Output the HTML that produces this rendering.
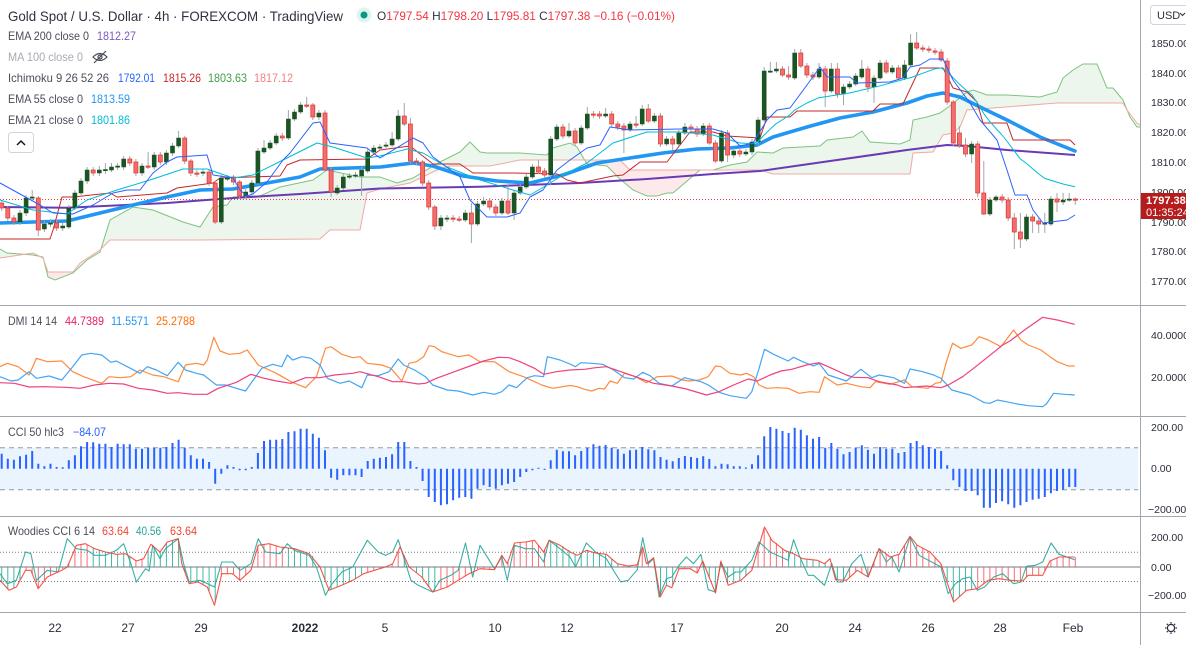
<!DOCTYPE html>
<html><head><meta charset="utf-8">
<style>
html,body{margin:0;padding:0;background:#fff;width:1186px;height:645px;overflow:hidden;}
svg{position:absolute;left:0;top:0;font-family:"Liberation Sans",Arial,sans-serif;}
</style></head><body>
<svg width="1186" height="645" xmlns="http://www.w3.org/2000/svg">
<defs><clipPath id="cm"><rect x="0" y="0" width="1140" height="305"/></clipPath></defs>
<rect x="0" y="0" width="1186" height="645" fill="#fff"/>

<g clip-path="url(#cm)">
<!-- cloud -->
<polygon fill="#ecf6ec" points="0,249 7,253 33,255 43,257 48,277 55,280 73,273 87,260 100,252 110,220 133,207 153,210 183,222 200,227 213,207 227,205 233,197 260,196 280,187 313,180 327,170 360,177 380,177 397,183 413,178 440,162 460,152 470,142 480,152 487,153 520,153 547,155 553,148 570,143 577,147 587,164 607,166 620,179 633,190 647,196 657,196 667,193 673,193 700,170 713,170 730,165 747,162 757,152 773,153 783,148 820,146 827,140 853,137 862,131 870,142 900,144 910,140 913,120 927,117 940,113 947,108 967,92 973,90 987,95 1007,95 1040,97 1057,92 1063,78 1073,70 1083,64 1097,64 1107,88 1113,88 1123,100 1130,117 1137,127 1140,127 1140,125 1137,123 1127,110 1123,103 1057,103 967,110 960,127 953,133 943,135 933,152 913,153 910,174 773,174 760,170 630,170 620,160 520,160 490,166 450,166 437,170 410,183 380,189 367,193 360,230 330,230 320,239 200,240 110,240 100,250 80,263 73,272 48,272 43,258 33,253 0,258"/>
<polygon fill="#fde9ea" points="43.8,260.3 48,277 55,280 73,273 87,260 100,252 100.9,249 100,250 80,263 73,272 48,272"/>
<polygon fill="#fde9ea" points="584.6,160 587,164 607,166 620,179 633,190 647,196 657,196 667,193 673,193 700,170 630,170 620,160"/>
<polyline fill="none" stroke="#7cc47f" stroke-width="1" points="0,249 7,253 33,255 43,257 48,277 55,280 73,273 87,260 100,252 110,220 133,207 153,210 183,222 200,227 213,207 227,205 233,197 260,196 280,187 313,180 327,170 360,177 380,177 397,183 413,178 440,162 460,152 470,142 480,152 487,153 520,153 547,155 553,148 570,143 577,147 587,164 607,166 620,179 633,190 647,196 657,196 667,193 673,193 700,170 713,170 730,165 747,162 757,152 773,153 783,148 820,146 827,140 853,137 862,131 870,142 900,144 910,140 913,120 927,117 940,113 947,108 967,92 973,90 987,95 1007,95 1040,97 1057,92 1063,78 1073,70 1083,64 1097,64 1107,88 1113,88 1123,100 1130,117 1137,127 1140,127"/>
<polyline fill="none" stroke="#f1a9a6" stroke-width="1" points="0,258 33,253 43,258 48,272 73,272 80,263 100,250 110,240 200,240 320,239 330,230 360,230 367,193 380,189 410,183 437,170 450,166 490,166 520,160 620,160 630,170 760,170 773,174 910,174 913,153 933,152 943,135 953,133 960,127 967,110 1057,103 1123,103 1127,110 1137,123 1140,125"/>

<!-- current price line -->
<line x1="0" y1="199.5" x2="1140" y2="199.5" stroke="#f23645" stroke-width="1" stroke-dasharray="1,2"/>

<!-- EMA200 -->
<polyline fill="none" stroke="#6a3ab5" stroke-width="2" stroke-linejoin="round" points="0,207 67,207.7 167,203 233,198 300,194 380,188.5 480,186.7 580,183 647,179 713,174 760,171 907,150 947,145 967,146 1007,150 1075,155"/>
<!-- EMA55 -->
<polyline fill="none" stroke="#2196f3" stroke-width="3.6" stroke-linejoin="round" stroke-linecap="round" points="0,223 67,221 100,213 133,205 167,197 200,190 233,189 267,183 300,177 320,169 380,167 413,163 433,166 463,176 497,181 530,183 563,175 597,163 630,158 663,153 697,149 730,148 757,145 773,137 807,127 840,118 873,112 907,103 927,96 943,93 960,97 980,107 1007,120 1040,137 1075,151"/>
<!-- Kijun -->
<polyline fill="none" stroke="#c62828" stroke-width="1" stroke-linejoin="round" points="0,239 50,239 53,230 62,197 73,197 110,193 117,197 167,193 177,188 213,183 220,178 250,177 280,176 287,165 300,160 367,159 380,150 410,146 433,164 460,164 473,173 513,173 557,174 567,180 580,183 613,176 623,175 640,162 667,162 690,132 713,132 727,136 760,138 767,117 790,117 797,111 873,111 880,104 903,104 920,68 943,68 953,88 967,92 977,102 983,123 1007,123 1013,140 1070,140 1075,145"/>

<!-- wicks -->
<path fill="none" stroke="#a2a5ab" stroke-width="1" d="M1.7 200V211M7.8 206V221M13.9 215V225M20 210V225M26.1 195V216M32.2 190V201M38.3 196V236M44.4 221V232M50.5 219V227M56.6 220V231M62.7 223V231M68.8 205V229M74.9 190V210M81 178V195M87.1 167V184M93.2 167V176M99.3 166V176M105.4 163V174M111.5 163V172M117.6 163V170M123.7 156V170M129.8 156V166M135.9 159V176M142 163V176M148.1 152V169M154.2 152V170M160.3 152V165M166.4 150V165M172.5 143V156M178.6 131V148M184.7 136V164M190.8 159V176M196.9 170V177M203 169V176M209.1 169V186M215.2 181V224M221.3 175V224M227.4 175V181M233.5 175V185M239.6 180V199M245.7 189V199M251.8 180V195M257.9 148V185M264 140V154M270.1 140V150M276.2 133V145M282.3 133V141M288.4 110V140M294.5 109V121M300.6 102V114M306.7 97V108M312.8 103V120M318.9 110V120M325 110V172M331.1 167V197M337.2 185V195M343.3 174V190M349.4 173V179M355.5 172V178M361.6 167V196M367.7 149V173M373.8 145V151M379.9 144V150M386 142V148M392.1 132V147M398.2 110V141M404.3 103V126M410.4 118V164M416.5 158V165M422.6 160V186M428.7 180V210M434.8 205V230M440.9 215V230M447 215V222M453.1 215V222M459.2 216V222M465.3 210V222M471.4 203V243M477.5 201V226M483.6 197V206M489.7 198V210M495.8 204V216M501.9 198V215M508 183V215M514.1 190V220M520.2 184V195M526.3 174V189M532.4 164V179M538.5 160V174M544.6 168V178M550.7 136V185M556.8 124V141M562.9 124V139M569 123V138M575.1 128V146M581.2 125V145M587.3 107V130M593.4 111V118M599.5 111V119M605.6 108V118M611.7 111V127M617.8 121V130M623.9 123V153M630 121V132M636.1 116V128M642.2 105V126M648.3 104V123M654.4 113V123M660.5 113V147M666.6 136V146M672.7 136V150M678.8 130V146M684.9 123V135M691 124V132M697.1 126V137M703.2 123V136M709.3 123V145M715.4 140V163M721.5 130V163M727.6 130V162M733.7 148V158M739.8 148V157M745.9 149V156M752 139V155M758.1 117V145M764.2 67V122M770.3 62V73M776.4 62V73M782.5 66V77M788.6 66V80M794.7 49V80M800.8 49V68M806.9 63V78M813 72V80M819.1 63V79M825.2 66V107M831.3 63V93M837.4 63V98M843.5 84V105M849.6 81V89M855.7 73V86M861.8 60V79M867.9 66V92M874 75V103M880.1 60V80M886.2 60V74M892.3 65V74M898.4 65V80M904.5 60V80M910.6 34V67M916.7 32V50M922.8 45V52M928.9 46V53M935 48V55M941.1 49V62M947.2 58V105M953.3 100V146M959.4 126V148M965.5 138V157M971.6 141V163M977.7 141V197M983.8 161V215M989.9 197V216M996 195V202M1002.1 194V203M1008.2 197V221M1014.3 213V249M1020.4 213V248M1026.5 214V241M1032.6 214V233M1038.7 218V233M1044.8 213V233M1050.9 196V226M1057 193V212M1063.1 193V205M1069.2 193V202M1075.3 197.6V204.7"/>

<!-- green bodies -->
<path fill="#1b5424" stroke="#1b5424" stroke-width="0.6" d="M18 213h4v9h-4zM24.1 198h4v15h-4zM30.2 197h4v1.2h-4zM42.4 224h4v5h-4zM48.5 223h4v1.2h-4zM60.7 226h4v2h-4zM66.8 208h4v19h-4zM72.9 193h4v15h-4zM79 181h4v12h-4zM85.1 170h4v11h-4zM97.3 170h4v3h-4zM103.4 169.5h4v1.2h-4zM109.5 167h4v3h-4zM115.6 166h4v1.2h-4zM121.7 159h4v8h-4zM140 166h4v7h-4zM152.2 155h4v12h-4zM164.4 153h4v9h-4zM170.5 146h4v7h-4zM176.6 138h4v8h-4zM201 172h4v1.2h-4zM219.3 178h4v44h-4zM225.4 178h4v1.2h-4zM243.7 192h4v4h-4zM249.8 183h4v9h-4zM255.9 151h4v32h-4zM262 148h4v4h-4zM268.1 143h4v5h-4zM274.2 136h4v7h-4zM286.4 119h4v19h-4zM292.5 112h4v7h-4zM298.6 105h4v7h-4zM316.9 113h4v4h-4zM335.2 188h4v5h-4zM341.3 177h4v11h-4zM347.4 176h4v1.2h-4zM353.5 175h4v1.2h-4zM359.6 170h4v6h-4zM365.7 152h4v19h-4zM371.8 148h4v4h-4zM377.9 147h4v1.2h-4zM384 145h4v1.2h-4zM390.1 139h4v6h-4zM396.2 116h4v23h-4zM438.9 218h4v8h-4zM445 218h4v1.2h-4zM463.3 213h4v7h-4zM475.5 204h4v20h-4zM481.6 201h4v3h-4zM499.9 201h4v12h-4zM512.1 193h4v20h-4zM518.2 187h4v6h-4zM524.3 177h4v10h-4zM530.4 167h4v10h-4zM548.7 139h4v36h-4zM554.8 127h4v12h-4zM567 131h4v5h-4zM579.2 128h4v15h-4zM585.3 114h4v14h-4zM603.6 114h4v2h-4zM628 124h4v6h-4zM640.2 109h4v15h-4zM652.4 116h4v5h-4zM664.6 139h4v5h-4zM676.8 133h4v11h-4zM682.9 127h4v6h-4zM701.2 126h4v8h-4zM719.5 133h4v28h-4zM731.7 151h4v4h-4zM743.9 152h4v2h-4zM750 142h4v10h-4zM756.1 120h4v22h-4zM762.2 71h4v49h-4zM768.3 71h4v1.2h-4zM774.4 69h4v2h-4zM792.7 53h4v25h-4zM817.1 69h4v8h-4zM829.3 69h4v22h-4zM841.5 87h4v7h-4zM847.6 84h4v3h-4zM853.7 76h4v8h-4zM859.8 69h4v8h-4zM872 78h4v9h-4zM878.1 63h4v15h-4zM890.3 68h4v4h-4zM902.5 65h4v13h-4zM908.6 43h4v22h-4zM969.6 144h4v10h-4zM987.9 200h4v14h-4zM994 197h4v3h-4zM1024.5 217h4v22h-4zM1042.8 223h4v1.2h-4zM1048.9 199h4v25h-4zM1061.1 200h4v2h-4zM1067.2 199h4v1.2h-4z"/>
<!-- red bodies -->
<path fill="#f07070" stroke="#e53935" stroke-width="0.8" d="M-0.3 203h4v5h-4zM5.8 208h4v10h-4zM11.9 218h4v4h-4zM36.3 198h4v32h-4zM54.6 223h4v5h-4zM91.2 170h4v3h-4zM127.8 159h4v4h-4zM133.9 162h4v11h-4zM146.1 166h4v1.2h-4zM158.3 155h4v7h-4zM182.7 138h4v23h-4zM188.8 161h4v12h-4zM194.9 173h4v1.2h-4zM207.1 172h4v11h-4zM213.2 183h4v39h-4zM231.5 177h4v5h-4zM237.6 182h4v14h-4zM280.3 136h4v2h-4zM304.7 105h4v1.2h-4zM310.8 105h4v12h-4zM323 113h4v57h-4zM329.1 170h4v22h-4zM402.3 116h4v8h-4zM408.4 124h4v37h-4zM414.5 161h4v1.2h-4zM420.6 162h4v21h-4zM426.7 183h4v24h-4zM432.8 207h4v19h-4zM451.1 218h4v1.2h-4zM457.2 219h4v1.2h-4zM469.4 213h4v11h-4zM487.7 201h4v6h-4zM493.8 207h4v6h-4zM506 201h4v12h-4zM536.5 167h4v5h-4zM542.6 171h4v4h-4zM560.9 127h4v9h-4zM573.1 131h4v12h-4zM591.4 114h4v1.2h-4zM597.5 114h4v2h-4zM609.7 114h4v10h-4zM615.8 124h4v3h-4zM621.9 126h4v4h-4zM634.1 124h4v1.2h-4zM646.3 109h4v12h-4zM658.5 116h4v28h-4zM670.7 139h4v5h-4zM689 127h4v2h-4zM695.1 129h4v5h-4zM707.3 126h4v17h-4zM713.4 143h4v18h-4zM725.6 133h4v22h-4zM737.8 151h4v3h-4zM780.5 69h4v6h-4zM786.6 75h4v2h-4zM798.8 53h4v13h-4zM804.9 66h4v9h-4zM811 75h4v2h-4zM823.2 69h4v22h-4zM835.4 69h4v25h-4zM865.9 69h4v18h-4zM884.2 63h4v9h-4zM896.4 68h4v10h-4zM914.7 43h4v5h-4zM920.8 48h4v1.2h-4zM926.9 49h4v1.2h-4zM933 51h4v1.2h-4zM939.1 52h4v8h-4zM945.2 61h4v41h-4zM951.3 102h4v41h-4zM957.4 133h4v12h-4zM963.5 145h4v9h-4zM975.7 144h4v49h-4zM981.8 193h4v21h-4zM1000.1 197h4v3h-4zM1006.2 200h4v18h-4zM1012.3 218h4v14h-4zM1018.4 232h4v7h-4zM1030.6 217h4v4h-4zM1036.7 221h4v3h-4zM1055 199h4v3h-4zM1073.3 199h4v1.2h-4z"/>

<!-- EMA21 -->
<polyline fill="none" stroke="#00bcd4" stroke-width="1" stroke-linejoin="round" points="0,200 33,210 67,214 87,200 117,190 150,180 183,169 207,169 233,178 253,175 283,160 317,143 333,147 367,158 380,156 407,149 423,153 447,167 480,180 513,190 530,195 547,185 563,175 587,163 613,143 647,132 680,132 713,135 740,143 752,143.6 758,141.5 764,135.1 770,129.3 776,123.8 789,115.5 795,109.8 807,103 819,97.7 850,92.9 880,85.8 911,77.5 935,68.8 941,68 947,71.1 953,77.6 959,83.7 966,90.1 972,95 978,103.9 984,113.9 990,121.7 996,128.5 1002,135 1008,142.5 1014,150.6 1020,158.6 1027,163.9 1033,169.1 1039,174.1 1045,178.5 1051,180.4 1063,184 1075,186.7"/>
<!-- Tenkan -->
<polyline fill="none" stroke="#2962ff" stroke-width="1" stroke-linejoin="round" points="0,183 40,205 53,213 73,214 93,205 113,193 127,190 140,190 153,173 167,162 177,157 207,155 213,175 233,178 240,190 247,196 253,194 267,182 283,160 290,153 313,123 320,122 330,143 367,148 380,158 413,138 423,143 433,157 460,177 470,200 487,217 507,217 520,213 530,197 543,190 557,170 570,160 587,148 600,145 610,127 630,130 680,129 713,129 727,133 740,146 753,143 767,120 777,110 790,108 807,85 820,67 827,77 850,77 857,83 890,82 903,78 910,67 920,65 930,59 943,59 953,80 970,103 980,120 997,140 1007,170 1015,195 1027,195 1033,210 1043,223 1067,220 1075,215"/>
</g>

<!-- DMI -->
<polyline fill="none" stroke="#ff8a3d" stroke-width="1.2" stroke-linejoin="round" points="0,366.7 7.3,363.3 18.2,366.7 29.1,375 36.4,358.3 47.3,361.7 61.8,361 72.7,371.7 83.6,376.7 101.8,383.3 109.1,376.7 120,377.7 130.9,376.7 140,370 152.7,375 163.6,376.7 178.2,381.7 185.5,365 196.4,363.3 203.6,365 207.3,360 213.8,337.3 220,351 229.1,354.3 240,353.3 247.3,350 258.2,365 276.4,373.3 290.9,381.7 305.5,387.7 316.4,376.7 325.5,348.3 330.9,346.7 341.8,354.3 352.7,357.7 360,356.7 367.3,363.3 381.8,365 390.9,368.3 401.8,381 409.1,363.3 416.4,361.7 423.6,356.7 429.1,345.7 434.5,346.7 441.8,351.7 458.2,356.7 469.1,355 480,361.7 494.5,361.7 509.1,371.7 523.6,376.7 541.8,385 552.7,388.3 570,385.5 577.3,386.7 584.5,389.3 591.8,391 599.1,388.3 604.5,389 610,381 617.3,383.3 624.5,373.3 635.5,376.7 646.4,382.7 657.3,376.7 671.8,376 682.7,380 690,381 699.1,380 708.2,376.7 715.5,366 720.9,366.7 730,373.3 740.9,375 746.4,373.3 753.6,376.7 759.1,385 766.4,388.3 777.3,387.7 788.2,388.3 799.1,393.3 810,391.7 819.1,392.3 824.5,376.7 837.3,385 846.4,383.3 860.9,386.7 870,387.7 875.5,381.7 890,384.3 904.5,380 911.8,386.7 928.2,388.3 935.5,383.3 940.9,382.3 946.4,361.7 952.5,343.3 960.9,348.3 971.8,345 979.1,336.7 988.2,340 1000.9,346.7 1013.6,330 1020.9,340 1028.2,345 1040.9,350 1050,356.7 1057.3,361.7 1068.2,366 1074.7,366"/>
<polyline fill="none" stroke="#42a5f5" stroke-width="1.2" stroke-linejoin="round" points="0,376.7 10.9,381 18.2,380 29.1,371.7 36.4,378.3 49.1,376 61.8,380 72.7,366.7 81.8,355 90.9,353.3 101.8,355 110.9,362.3 116.4,361 127.3,366.7 140,373.3 147.3,366.7 156.4,370 167.3,375.7 178.2,362.3 185.5,370 196.4,373.3 203.6,375 216.4,385 225.5,385 236.4,388.3 245.5,391 254.5,378.3 261.8,368.3 272.7,364.3 281.8,366.7 287.3,355 292.7,360 301.8,356.7 310.9,358.3 320,365 327.3,378.3 340,383.3 349.1,381 361.8,387.7 367.3,375 378.2,375.7 389.1,371.7 398.2,359 403.6,365 414.5,370 425.5,376.7 432.7,385 447.3,390 458.2,391 472.7,395 483.6,392.3 494.5,394.3 501.8,391.7 509.1,385 516.4,387.7 527.3,377.7 534.5,375.7 543.6,376.7 547.3,356.7 560,360 570,364 575.5,366.7 580.9,362.7 591.8,363.3 602.7,364.3 613.6,370 624.5,377.7 633.6,379 642.7,372.3 650,375.7 659.1,383.3 671.8,386 684.5,377.7 700.9,381.7 708.2,385 719.1,392.3 730,395.7 746.4,398.3 751.8,391.7 759.1,368.3 764.5,349.3 773.6,354.3 788.2,361 793.6,357.3 802.7,361.7 813.6,366 819.1,363.3 828.2,375 846.4,381 860.9,369.3 871.8,377.7 879.1,375 893.6,377.7 904.5,383.3 910,369 922.7,371.7 933.6,375 940.9,378.3 951.8,390 970,395 984.5,402.7 990,403.3 997.3,400 1006.4,401.7 1017.3,404 1028.2,405.7 1042.7,406.7 1046.4,404 1053.6,393.3 1064.5,394.3 1074.7,395"/>
<polyline fill="none" stroke="#f0407d" stroke-width="1.2" stroke-linejoin="round" points="0,382.7 14.5,383.3 29.1,387 43.6,386.7 65.5,387.3 80,388.3 94.5,385 109.1,383.3 123.6,384 138.2,388.3 152.7,390 167.3,393.3 178.2,392.7 192.7,394.3 207.3,394.3 218.2,388.3 236.4,382.3 250.9,374.3 261.8,377.7 276.4,381 290.9,383.3 305.5,377.7 320,377.7 334.5,375 352.7,373.3 360,371.7 378.2,376.7 392.7,381.7 403.6,381.7 418.2,384 425.5,383.3 436.4,378.3 454.5,371.7 472.7,365 483.6,361 498.2,357.3 509.1,357.7 520,361.7 534.5,368.3 543.6,374.3 556.4,371.7 570,370 584.5,369.3 595.5,367.7 606.4,366.7 620.9,371.7 635.5,376.7 653.6,383.3 671.8,386 686.4,389 706.4,395 719.1,391.7 733.6,385 748.2,379 757.3,381 770,375 780.9,371 791.8,369.3 806.4,365 819.1,362.7 831.8,368.3 846.4,375 853.6,377.3 868.2,377.7 879.1,381.7 897.3,385 904.5,387.7 926.4,386 940.9,387.7 948.2,385 962.7,376.7 973.6,368.3 988.2,356.7 1002.7,345 1010,341 1024.5,330 1042.7,317.3 1057.3,320 1074.7,324.3"/>

<!-- CCI -->
<rect x="0" y="447.7" width="1138" height="42" fill="#e9f4fe"/>
<line x1="0" y1="447.7" x2="1138" y2="447.7" stroke="#9598a1" stroke-width="1" stroke-dasharray="5,4"/>
<line x1="0" y1="489.7" x2="1138" y2="489.7" stroke="#9598a1" stroke-width="1" stroke-dasharray="5,4"/>
<path fill="none" stroke="#2962ff" stroke-width="2" d="M1.7 468.7V453.7M7.8 468.7V458.7M13.9 468.7V459.7M20 468.7V456.3M26.1 468.7V454.7M32.2 468.7V451M38.3 468.7V463.7M44.4 468.7V466.3M50.5 468.7V463.7M56.6 468.7V467M62.7 468.7V467.2M68.8 468.7V460.3M74.9 468.7V455.3M81 468.7V446.3M87.1 468.7V442M93.2 468.7V442.3M99.3 468.7V443.7M105.4 468.7V443.7M111.5 468.7V447M117.6 468.7V443.7M123.7 468.7V444.3M129.8 468.7V444.3M135.9 468.7V448.7M142 468.7V448.7M148.1 468.7V447.7M154.2 468.7V447.7M160.3 468.7V447.7M166.4 468.7V447M172.5 468.7V443M178.6 468.7V439.7M184.7 468.7V447.7M190.8 468.7V455.3M196.9 468.7V458.7M203 468.7V458.7M209.1 468.7V462M215.2 468.7V483.7M221.3 468.7V473.7M227.4 468.7V465.3M233.5 468.7V467M239.6 468.7V470.3M245.7 468.7V470.2M251.8 468.7V467M257.9 468.7V453M264 468.7V441M270.1 468.7V439.7M276.2 468.7V439.7M282.3 468.7V439M288.4 468.7V432M294.5 468.7V431.3M300.6 468.7V428.7M306.7 468.7V428.7M312.8 468.7V433.7M318.9 468.7V437.7M325 468.7V450.3M331.1 468.7V477.7M337.2 468.7V479.7M343.3 468.7V475.3M349.4 468.7V475.3M355.5 468.7V475.3M361.6 468.7V477M367.7 468.7V461M373.8 468.7V458.7M379.9 468.7V457.7M386 468.7V457M392.1 468.7V454.3M398.2 468.7V442M404.3 468.7V442M410.4 468.7V461M416.5 468.7V467M422.6 468.7V481M428.7 468.7V497M434.8 468.7V502M440.9 468.7V505.3M447 468.7V504.3M453.1 468.7V500.3M459.2 468.7V497.7M465.3 468.7V497M471.4 468.7V498.7M477.5 468.7V488.7M483.6 468.7V485.3M489.7 468.7V487M495.8 468.7V488.7M501.9 468.7V485.3M508 468.7V483.7M514.1 468.7V482M520.2 468.7V477M526.3 468.7V472M532.4 468.7V470.3M538.5 468.7V467.7M544.6 468.7V469.9M550.7 468.7V460.3M556.8 468.7V449.7M562.9 468.7V451.3M569 468.7V451.3M575.1 468.7V455.3M581.2 468.7V451M587.3 468.7V447.7M593.4 468.7V444.3M599.5 468.7V445.7M605.6 468.7V445M611.7 468.7V447.7M617.8 468.7V449.3M623.9 468.7V453.7M630 468.7V450.3M636.1 468.7V449.7M642.2 468.7V447M648.3 468.7V449.3M654.4 468.7V450.3M660.5 468.7V457M666.6 468.7V459.7M672.7 468.7V461.3M678.8 468.7V458M684.9 468.7V456M691 468.7V457M697.1 468.7V458M703.2 468.7V456.3M709.3 468.7V459M715.4 468.7V466.3M721.5 468.7V463.7M727.6 468.7V464.3M733.7 468.7V466.3M739.8 468.7V466.3M745.9 468.7V467.5M752 468.7V464.3M758.1 468.7V455.3M764.2 468.7V436.3M770.3 468.7V427M776.4 468.7V428.7M782.5 468.7V431M788.6 468.7V433M794.7 468.7V427.7M800.8 468.7V429.7M806.9 468.7V435.3M813 468.7V438.7M819.1 468.7V437M825.2 468.7V447.7M831.3 468.7V443M837.4 468.7V448.7M843.5 468.7V454.3M849.6 468.7V452M855.7 468.7V447.7M861.8 468.7V445.3M867.9 468.7V449.7M874 468.7V453.7M880.1 468.7V447M886.2 468.7V448.7M892.3 468.7V448.7M898.4 468.7V453M904.5 468.7V452M910.6 468.7V443M916.7 468.7V441M922.8 468.7V445.3M928.9 468.7V447M935 468.7V448.7M941.1 468.7V451M947.2 468.7V465.3M953.3 468.7V480.3M959.4 468.7V487M965.5 468.7V491M971.6 468.7V491M977.7 468.7V495.3M983.8 468.7V507.7M989.9 468.7V507.7M996 468.7V503M1002.1 468.7V501.3M1008.2 468.7V504.3M1014.3 468.7V507.7M1020.4 468.7V505.3M1026.5 468.7V502M1032.6 468.7V499.7M1038.7 468.7V498.7M1044.8 468.7V497M1050.9 468.7V493.3M1057 468.7V491M1063.1 468.7V489.7M1069.2 468.7V487M1075.3 468.7V487"/>

<!-- Woodies -->
<line x1="0" y1="552.3" x2="1140" y2="552.3" stroke="#787b86" stroke-width="1" stroke-dasharray="1,2"/>
<line x1="0" y1="581.5" x2="1140" y2="581.5" stroke="#787b86" stroke-width="1" stroke-dasharray="1,2"/>
<line x1="0" y1="567" x2="1140" y2="567" stroke="#787b86" stroke-width="1"/>
<path fill="none" stroke="#22ab94" stroke-width="1" opacity="0.85" d="M1.7 567V582M7.8 567V589M13.9 567V588M20 567V580M68.8 567V563M93.2 567V548M99.3 567V550M105.4 567V552M111.5 567V553M117.6 567V554M123.7 567V554M129.8 567V557M148.1 567V550M154.2 567V547M160.3 567V552M166.4 567V543M172.5 567V540M178.6 567V541M184.7 567V572M190.8 567V583M196.9 567V582M203 567V585M209.1 567V591M215.2 567V602M288.4 567V548M294.5 567V549M300.6 567V551M306.7 567V553M312.8 567V556M318.9 567V565M325 567V580M331.1 567V590M337.2 567V587M343.3 567V585M349.4 567V582M355.5 567V579M361.6 567V575M404.3 567V556M410.4 567V568M416.5 567V573M422.6 567V578M428.7 567V587M434.8 567V591M550.7 567V541M556.8 567V544M562.9 567V546M569 567V550M575.1 567V554M581.2 567V553M587.3 567V550M593.4 567V552M599.5 567V553M605.6 567V554M611.7 567V559M617.8 567V564M660.5 567V596M666.6 567V585M672.7 567V585M709.3 567V578M715.4 567V593M721.5 567V563M727.6 567V583M733.7 567V583M739.8 567V581M745.9 567V576M788.6 567V552M794.7 567V554M800.8 567V558M806.9 567V559M813 567V560M819.1 567V561M825.2 567V563M831.3 567V564M837.4 567V580M843.5 567V580M947.2 567V583M953.3 567V601M959.4 567V597M965.5 567V591M971.6 567V590"/>
<path fill="none" stroke="#f7525f" stroke-width="1" opacity="0.85" d="M26.1 567V570M32.2 567V574M38.3 567V588M44.4 567V580M50.5 567V575M56.6 567V572M62.7 567V569M74.9 567V549M81 567V544M87.1 567V545M135.9 567V561M142 567V559M221.3 567V575M227.4 567V574M233.5 567V574M239.6 567V580M245.7 567V575M251.8 567V567M257.9 567V546M264 567V544M270.1 567V544M276.2 567V546M282.3 567V547M367.7 567V572M373.8 567V570M379.9 567V569M386 567V567M392.1 567V564M398.2 567V551M440.9 567V589M447 567V587M453.1 567V583M459.2 567V580M465.3 567V576M471.4 567V573M477.5 567V569M483.6 567V569M489.7 567V569M495.8 567V567M501.9 567V555M508 567V562M514.1 567V544M520.2 567V542M526.3 567V542M532.4 567V541M538.5 567V545M544.6 567V550M623.9 567V565M630 567V566M636.1 567V565M642.2 567V549M648.3 567V562M654.4 567V562M678.8 567V569M684.9 567V569M691 567V569M697.1 567V573M703.2 567V562M752 567V569M758.1 567V549M764.2 567V528M770.3 567V538M776.4 567V543M782.5 567V549M849.6 567V577M855.7 567V572M861.8 567V573M867.9 567V577M874 567V562M880.1 567V550M886.2 567V554M892.3 567V556M898.4 567V554M904.5 567V545M910.6 567V537M916.7 567V545M922.8 567V548M928.9 567V551M935 567V557M941.1 567V564M977.7 567V588M983.8 567V584M989.9 567V580M996 567V579M1002.1 567V579M1008.2 567V580M1014.3 567V580M1020.4 567V581M1026.5 567V577M1032.6 567V575M1038.7 567V575M1044.8 567V571M1050.9 567V561M1057 567V558M1063.1 567V557M1069.2 567V557M1075.3 567V557"/>
<polyline fill="none" stroke="#26a69a" stroke-width="1.1" stroke-linejoin="round" opacity="0.9" points="0,573.7 7.3,583.7 16.4,580.3 25.5,552 30.9,553.7 36.4,580.3 47.3,570.3 58.2,572 67.3,538.7 76.4,548.7 87.3,550.3 94.5,555.3 105.5,555.3 116.4,550.3 123.6,543.7 130.9,563.7 136.4,582 145.5,568.7 149.1,571 152.7,545.3 160,558.7 165.5,548.7 178.2,538.7 183.6,563.7 189.1,582 200,580.3 214.5,587 221.8,562 232.7,562 240,570.3 250.9,563.7 258.2,538.7 265.5,552 280,553.7 287.3,543.7 294.5,550.3 309.1,555.3 316.4,567 325.5,595.3 330.9,585.3 341.8,572 352.7,567 360,553.7 367.3,540.3 378.2,552 385.5,555.3 392.7,552 398.2,539.7 403.6,557 410.9,580.3 418.2,585.3 432.7,592 440,580.3 450.9,575.3 458.2,570.3 465.5,543 472.7,577 480,545.3 494.5,568.7 501.8,557 507.3,580.3 514.5,545.3 525.5,548.7 534.5,548.7 543.6,562 549.1,540.3 560,548.7 570,557 575.5,567 586.4,543 595.5,552 606.4,558.7 615.5,573.7 620.9,582 628.2,580.3 637.3,569.7 642.7,537.7 648.2,563.7 653.6,558.7 659.1,597 666.4,578.7 671.8,577 679.1,565.3 686.4,557 693.6,563.7 700.9,554.3 708.2,589.7 715.5,592 720.9,562 728.2,577 735.5,572 740.9,572 751.8,560.3 759.1,542 770,552 788.2,560.3 793.6,539.7 799.1,555.3 808.2,575.3 813.6,575.3 824.5,585.3 831.8,563.7 837.3,582 842.7,582 851.8,563.7 860.9,554.3 868.2,576.3 879.1,548.7 886.4,562 891.8,557 899.1,572 910,537 919.1,555.3 933.6,563 940.9,567 948.2,593.7 955.5,583.7 962.7,578.7 970,577 977.3,590.3 984.5,587 993.6,577 1002.7,573.7 1013.6,583.7 1020.9,582 1026.4,566.3 1035.5,565.3 1042.7,562 1051.1,543 1059.1,554.3 1074.7,559.7"/>
<polyline fill="none" stroke="#f44336" stroke-width="1.1" stroke-linejoin="round" opacity="0.9" points="0,580.3 9.1,590.3 16.4,587 25.5,570.3 30.9,570.3 38.2,588.7 47.3,577 61.8,570.3 67.3,567 76.4,545.3 85.5,543.7 94.5,548.7 105.5,552 116.4,554.3 125.5,553.7 136.4,561 143.6,558.7 150.9,544.3 160,552 167.3,542 178.2,538.7 181.8,563.7 189.1,583.7 198.2,582 207.3,587 214.5,605.3 221.8,573.7 232.7,573.7 240,580.3 250.9,570.3 258.2,545.3 269.1,543.7 280,547 294.5,548.7 309.1,553.7 320,567 329.1,590.3 341.8,585.3 352.7,580.3 363.6,573.7 374.5,570.3 385.5,567 392.7,563.7 400,547 409.1,567 421.8,577 432.7,592 447.3,587 458.2,580.3 469.1,573.7 480,568.7 494.5,569.7 501.8,555.3 507.3,563.7 514.5,543 525.5,542 534.5,540.3 543.6,552 549.1,540.3 560,545.3 570,552 577.3,555.3 586.4,550.3 595.5,553 606.4,554.3 617.3,563.7 628.2,566 637.3,564.7 642.7,547 646.4,563.7 653.6,557.7 660.2,597 666.4,585.3 671.8,587.7 679.1,568.7 690,568.7 697.3,573 702.7,561 715.5,593 720.9,561 728.2,585.3 740.9,580.3 751.8,570.3 764.5,527 771.8,540.3 784.5,550.3 793.6,553.7 802.7,558.7 817.3,560.3 824.5,563.7 830,558.7 835.5,579.7 846.4,580.3 857.3,570.3 868.2,577 879.1,548.7 890,557 899.1,554.3 910,536.3 917.3,545.3 930,552 940.9,563.7 953.6,602 966.4,590.3 977.3,588.7 988.2,580.3 999.1,578.7 1010,580.3 1022.7,581 1028.2,575.3 1042.7,575.3 1050,561 1059.1,557 1074.7,557"/>

<!-- separators -->
<g stroke="#a3a6af" stroke-width="1">
<line x1="0" y1="305.5" x2="1186" y2="305.5"/>
<line x1="0" y1="416.5" x2="1186" y2="416.5"/>
<line x1="0" y1="516.5" x2="1186" y2="516.5"/>
<line x1="0" y1="612.5" x2="1186" y2="612.5"/>
<line x1="1140.5" y1="0" x2="1140.5" y2="645"/>
</g>
<!-- price axis -->
<g font-size="10.5" fill="#2a2e39">
<text x="1151" y="18">1860.00</text>
<text x="1151" y="47">1850.00</text>
<text x="1151" y="77">1840.00</text>
<text x="1151" y="106">1830.00</text>
<text x="1151" y="136">1820.00</text>
<text x="1151" y="166">1810.00</text>
<text x="1151" y="196">1800.00</text>
<text x="1151" y="226">1790.00</text>
<text x="1151" y="255">1780.00</text>
<text x="1151" y="285">1770.00</text>
<text x="1151" y="339">40.0000</text>
<text x="1151" y="381">20.0000</text>
<text x="1151" y="431">200.00</text>
<text x="1151" y="472">0.00</text>
<text x="1148" y="513">−200.00</text>
<text x="1151" y="541">200.00</text>
<text x="1151" y="571">0.00</text>
<text x="1148" y="599">−200.00</text>
</g>
<rect x="1150.5" y="5.5" width="40" height="19" rx="3" fill="#fff" stroke="#d1d4dc"/>
<text x="1157" y="19" font-size="11" fill="#2a2e39">USD</text>
<polyline points="1180,13 1182.5,15.5 1185,13" fill="none" stroke="#2a2e39" stroke-width="1"/>
<rect x="1141" y="193" width="45" height="26" fill="#b71c1c"/>
<text x="1146" y="204" font-size="11" font-weight="bold" fill="#fff">1797.38</text>
<text x="1146" y="216" font-size="11" fill="#fff">01:35:24</text>
<!-- time axis -->
<g font-size="12" fill="#2a2e39" text-anchor="middle">
<text x="55" y="632">22</text><text x="128" y="632">27</text><text x="201" y="632">29</text>
<text x="305" y="632" font-weight="bold">2022</text><text x="385" y="632">5</text><text x="495" y="632">10</text>
<text x="567" y="632">12</text><text x="677" y="632">17</text><text x="782" y="632">20</text>
<text x="855" y="632">24</text><text x="928" y="632">26</text><text x="1000" y="632">28</text>
<text x="1073" y="632">Feb</text>
</g>
<g stroke="#2a2e39" stroke-width="1.2" fill="none">
<circle cx="1171" cy="628" r="3.6"/>
<line x1="1171" y1="622" x2="1171" y2="623.5"/><line x1="1171" y1="632.5" x2="1171" y2="634"/>
<line x1="1165" y1="628" x2="1166.5" y2="628"/><line x1="1175.5" y1="628" x2="1177" y2="628"/>
<line x1="1166.8" y1="623.8" x2="1167.8" y2="624.8"/><line x1="1174.2" y1="631.2" x2="1175.2" y2="632.2"/>
<line x1="1175.2" y1="623.8" x2="1174.2" y2="624.8"/><line x1="1167.8" y1="631.2" x2="1166.8" y2="632.2"/>
</g>
<!-- legends -->
<text x="8" y="21" font-size="14" fill="#2f3241" textLength="335" lengthAdjust="spacingAndGlyphs">Gold Spot / U.S. Dollar · 4h · FOREXCOM · TradingView</text>
<circle cx="364" cy="15" r="7.5" fill="#dff3ef"/><circle cx="364" cy="15" r="3.5" fill="#089981"/>
<text x="377" y="20" font-size="12" fill="#f23645" textLength="298" lengthAdjust="spacingAndGlyphs"><tspan fill="#2f3241">O</tspan>1797.54 <tspan fill="#2f3241">H</tspan>1798.20 <tspan fill="#2f3241">L</tspan>1795.81 <tspan fill="#2f3241">C</tspan>1797.38 −0.16 (−0.01%)</text>
<g font-size="12">
<text x="8" y="40" fill="#4a4e59" textLength="81" lengthAdjust="spacingAndGlyphs">EMA 200 close 0</text>
<text x="97" y="40" fill="#7e57c2" textLength="39" lengthAdjust="spacingAndGlyphs">1812.27</text>
<text x="8" y="61" fill="#a8abb3" textLength="75" lengthAdjust="spacingAndGlyphs">MA 100 close 0</text>
<text x="8" y="82" fill="#4a4e59" textLength="101" lengthAdjust="spacingAndGlyphs">Ichimoku 9 26 52 26</text>
<text x="118" y="82" fill="#2962ff" textLength="37" lengthAdjust="spacingAndGlyphs">1792.01</text>
<text x="163" y="82" fill="#c62828" textLength="38" lengthAdjust="spacingAndGlyphs">1815.26</text>
<text x="208" y="82" fill="#43a047" textLength="39" lengthAdjust="spacingAndGlyphs">1803.63</text>
<text x="254" y="82" fill="#f08080" textLength="39" lengthAdjust="spacingAndGlyphs">1817.12</text>
<text x="8" y="103" fill="#4a4e59" textLength="75" lengthAdjust="spacingAndGlyphs">EMA 55 close 0</text>
<text x="91" y="103" fill="#2196f3" textLength="39" lengthAdjust="spacingAndGlyphs">1813.59</text>
<text x="8" y="124" fill="#4a4e59" textLength="75" lengthAdjust="spacingAndGlyphs">EMA 21 close 0</text>
<text x="91" y="124" fill="#00bcd4" textLength="39" lengthAdjust="spacingAndGlyphs">1801.86</text>
<text x="8" y="325" fill="#4a4e59" textLength="49" lengthAdjust="spacingAndGlyphs">DMI 14 14</text>
<text x="65" y="325" fill="#e91e63" textLength="39" lengthAdjust="spacingAndGlyphs">44.7389</text>
<text x="111" y="325" fill="#2196f3" textLength="38" lengthAdjust="spacingAndGlyphs">11.5571</text>
<text x="156" y="325" fill="#ff6d00" textLength="39" lengthAdjust="spacingAndGlyphs">25.2788</text>
<text x="8" y="436" fill="#4a4e59" textLength="56" lengthAdjust="spacingAndGlyphs">CCI 50 hlc3</text>
<text x="73" y="436" fill="#2962ff" textLength="33" lengthAdjust="spacingAndGlyphs">−84.07</text>
<text x="8" y="535" fill="#4a4e59" textLength="87" lengthAdjust="spacingAndGlyphs">Woodies CCI 6 14</text>
<text x="102" y="535" fill="#f44336" textLength="27" lengthAdjust="spacingAndGlyphs">63.64</text>
<text x="136" y="535" fill="#26a69a" textLength="25" lengthAdjust="spacingAndGlyphs">40.56</text>
<text x="170" y="535" fill="#f44336" textLength="27" lengthAdjust="spacingAndGlyphs">63.64</text>
</g>
<g stroke="#4a4e59" stroke-width="1.2" fill="none">
<path d="M93,57 Q100,50 107,57 Q100,64 93,57 Z"/><circle cx="100" cy="57" r="2"/><line x1="94" y1="63" x2="106" y2="51"/>
</g>
<rect x="8.5" y="132.5" width="25" height="20" rx="3" fill="#fff" stroke="#d1d4dc"/>
<polyline points="17,145 21,141 25,145" fill="none" stroke="#131722" stroke-width="1.5"/>
</svg>
</body></html>
